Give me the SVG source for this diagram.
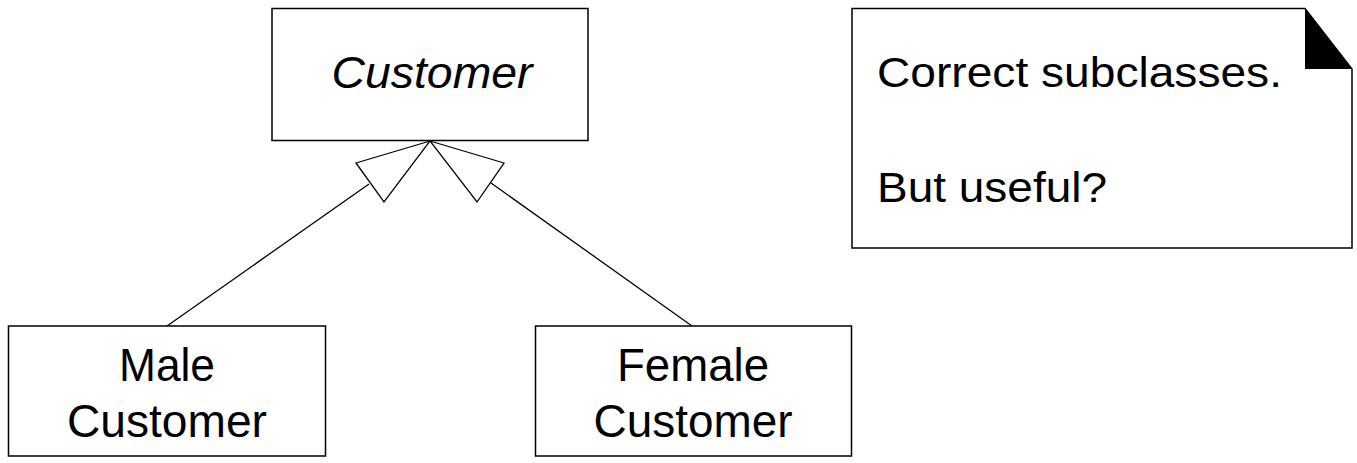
<svg xmlns="http://www.w3.org/2000/svg" width="1357" height="463" viewBox="0 0 1357 463">
<style>
.box{fill:#fff;stroke:#000;stroke-width:1.5}
.t{font-family:"Liberation Sans",Arial,sans-serif;fill:#000}
.c{stroke:#000;stroke-width:1.3;fill:none}
.tri{fill:#fff;stroke:#000;stroke-width:1.3}
</style>
<rect width="1357" height="463" fill="#fff"/>
<g id="connectors">
<line class="c" x1="369" y1="184" x2="167" y2="326"/>
<polygon class="tri" points="430,141 356,163 384,202"/>
<line class="c" x1="491" y1="183" x2="692" y2="326"/>
<polygon class="tri" points="430,141 504,163 477,202"/>
</g>
<g id="customer">
<rect class="box" x="272" y="8.5" width="316" height="132"/>
<text class="t" x="432" y="88" font-size="45" font-style="italic" text-anchor="middle" textLength="201" lengthAdjust="spacingAndGlyphs">Customer</text>
</g>
<g id="male">
<rect class="box" x="8.5" y="326" width="317" height="130"/>
<text class="t" x="167" y="381" font-size="47" text-anchor="middle" textLength="96" lengthAdjust="spacingAndGlyphs">Male</text>
<text class="t" x="167" y="437" font-size="47" text-anchor="middle" textLength="200" lengthAdjust="spacingAndGlyphs">Customer</text>
</g>
<g id="female">
<rect class="box" x="535.5" y="326" width="316" height="130"/>
<text class="t" x="693" y="381" font-size="47" text-anchor="middle" textLength="152" lengthAdjust="spacingAndGlyphs">Female</text>
<text class="t" x="693" y="437" font-size="47" text-anchor="middle" textLength="199" lengthAdjust="spacingAndGlyphs">Customer</text>
</g>
<g id="note">
<path class="box" d="M852,8.5 L1305,8.5 L1352,69 L1352,248 L852,248 Z"/>
<polygon points="1305,8.5 1352,69 1305,69" fill="#000"/>
<text class="t" x="877" y="87" font-size="43" textLength="405" lengthAdjust="spacingAndGlyphs">Correct subclasses.</text>
<text class="t" x="877" y="202" font-size="43" textLength="230" lengthAdjust="spacingAndGlyphs">But useful?</text>
</g>
</svg>
